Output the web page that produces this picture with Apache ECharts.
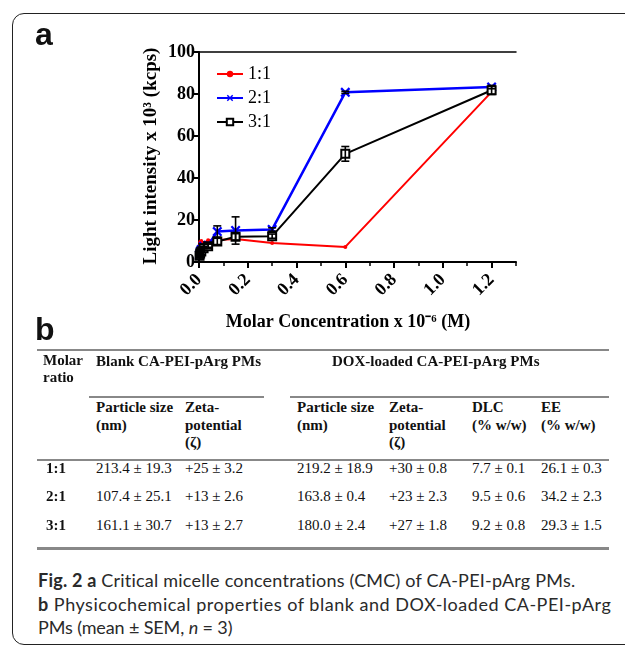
<!DOCTYPE html>
<html><head><meta charset="utf-8">
<script src="https://cdn.jsdelivr.net/npm/echarts@6/dist/echarts.min.js"></script>
<style>
html,body{margin:0;padding:0;background:#fff;width:625px;height:647px;overflow:hidden;position:relative}
#frame{position:absolute;left:12px;top:13px;width:660px;height:632px;border:1.5px solid #222;border-radius:12px;box-sizing:border-box}
#chart{position:absolute;left:0;top:0;width:625px;height:345px}
.t{position:absolute;white-space:nowrap;font-family:"Liberation Serif",serif;font-size:15px;line-height:16px;color:#111}
.b{font-weight:bold}
.hl{position:absolute;background:#888;height:1.5px}
.panel{position:absolute;font-family:"Liberation Sans",Arial,sans-serif;font-weight:bold;font-size:32px;line-height:32px;color:#111}
.cap{position:absolute;left:38px;white-space:nowrap;font-family:Lato,"Open Sans",sans-serif;font-size:18px;line-height:20px;color:#2a2a2a}
</style></head>
<body>
<div id="frame"></div>
<div id="chart"></div>
<div class="panel" style="left:35px;top:18px">a</div>
<div class="panel" style="left:35px;top:313px">b</div>
<div id="table"></div>
<div id="caption"></div>
<script>
// ---- Panel a data ----
const concentrations = [0.0023, 0.0047, 0.0094, 0.0188, 0.0375, 0.075, 0.15, 0.3, 0.6, 1.2];
const ratio11 = [7.5, 9.5, 10, 9, 10.3, 10.5, 11, 9, 7.2, 81];
const ratio21 = [3.5, 5, 6, 7.5, 8, 14.5, 15, 15.5, 80.8, 83.3];
const ratio31 = [3, 4, 5, 6.5, 7.5, 9.8, 12, 12.3, 51.5, 81.8];
const err21 = [1, 1, 1, 1, 1, 2.7, 6.5, 0.8, 0.5, 0.8];
const err31 = [1.5, 1.5, 1.5, 1, 1, 1.5, 1.5, 1, 3.5, 2];
const seriesNames = ['1:1', '2:1', '3:1'];
const xMajorTicks = [0, 0.2, 0.4, 0.6, 0.8, 1.0, 1.2];
const xMinorTicks = [0.1, 0.3, 0.5, 0.7, 0.9, 1.1, 1.3];

// ---- Panel b data ----
const molarRatios = ['1:1', '2:1', '3:1'];
const blankSize = ['213.4 ± 19.3', '107.4 ± 25.1', '161.1 ± 30.7'];
const blankZeta = ['+25 ± 3.2', '+13 ± 2.6', '+13 ± 2.7'];
const doxSize = ['219.2 ± 18.9', '163.8 ± 0.4', '180.0 ± 2.4'];
const doxZeta = ['+30 ± 0.8', '+23 ± 2.3', '+27 ± 1.8'];
const doxDLC = ['7.7 ± 0.1', '9.5 ± 0.6', '9.2 ± 0.8'];
const doxEE = ['26.1 ± 0.3', '34.2 ± 2.3', '29.3 ± 1.5'];

const serif = '"Liberation Serif", "Times New Roman", serif';
const zip = (xs, ys) => xs.map((x, i) => [x, ys[i]]);
const errData = (ys, es) => concentrations.map((x, i) => [x, ys[i] - es[i], ys[i] + es[i]]);
const xSym = 'path://M0,1.6L1.6,0L5,3.4L8.4,0L10,1.6L6.6,5L10,8.4L8.4,10L5,6.6L1.6,10L0,8.4L3.4,5Z';

function errorBar(color) {
  return function (params, api) {
    const x = api.value(0), lo = api.value(1), hi = api.value(2);
    const p1 = api.coord([x, lo]), p2 = api.coord([x, hi]);
    const w = 4;
    const st = {stroke: color, lineWidth: 1.6};
    return {type: 'group', children: [
      {type: 'line', shape: {x1: p1[0], y1: p1[1], x2: p2[0], y2: p2[1]}, style: st},
      {type: 'line', shape: {x1: p1[0] - w, y1: p1[1], x2: p1[0] + w, y2: p1[1]}, style: st},
      {type: 'line', shape: {x1: p2[0] - w, y1: p2[1], x2: p2[0] + w, y2: p2[1]}, style: st}
    ]};
  };
}
const blank = {axisLabel: {show: false}, axisTick: {show: false}, splitLine: {show: false}};

const chart = echarts.init(document.getElementById('chart'), null, {renderer: 'canvas'});
chart.setOption({
  animation: false,
  grid: {left: 199, top: 52, width: 317, height: 210},
  legend: {
    data: seriesNames, orient: 'vertical', left: 211, top: 60, itemWidth: 26, itemHeight: 8, itemGap: 6,
    textStyle: {fontFamily: serif, fontSize: 18, color: '#000'}
  },
  xAxis: [{
    type: 'value', min: 0, max: 1.3, position: 'bottom',
    axisLine: {lineStyle: {color: '#000', width: 2}},
    axisTick: {customValues: xMajorTicks, length: 6, lineStyle: {color: '#000', width: 2}},
    axisLabel: {customValues: xMajorTicks, rotate: 45, margin: 15, formatter: v => v.toFixed(1), fontFamily: serif, fontWeight: 'bold', fontSize: 18, color: '#000'},
    splitLine: {show: false}
  }, {
    type: 'value', min: 0, max: 1.3, position: 'bottom',
    axisLine: {show: false},
    axisTick: {customValues: xMinorTicks, length: 4, lineStyle: {color: '#000', width: 1.5}},
    axisLabel: {show: false}, splitLine: {show: false}
  }, Object.assign({
    type: 'value', min: 0, max: 1.3, position: 'top',
    axisLine: {show: true, lineStyle: {color: '#000', width: 1.5}}
  }, blank)],
  yAxis: [{
    type: 'value', min: 0, max: 100, interval: 20,
    axisLine: {show: true, lineStyle: {color: '#000', width: 2}},
    axisTick: {show: true, length: 6, lineStyle: {color: '#000', width: 2}},
    axisLabel: {margin: 4, fontFamily: serif, fontWeight: 'bold', fontSize: 18, color: '#000'},
    splitLine: {show: false}
  }, Object.assign({
    type: 'value', min: 0, max: 100, position: 'right',
    axisLine: {show: true, lineStyle: {color: '#000', width: 1.5}}
  }, blank)],
  graphic: [
    {type: 'text', x: 151, y: 156, rotation: Math.PI / 2, style: {text: 'Light intensity x 10³ (kcps)', font: 'bold 19px ' + serif, fill: '#000', align: 'center', verticalAlign: 'middle'}},
    {type: 'text', x: 348, y: 322, style: {text: 'Molar Concentration x 10⁻⁶ (M)', font: 'bold 18px ' + serif, fill: '#000', align: 'center', verticalAlign: 'middle'}}
  ],
  series: [
    {name: '1:1', type: 'line', data: zip(concentrations, ratio11), color: '#ff0000', lineStyle: {width: 2, color: '#ff0000'}, symbol: 'circle', symbolSize: 4, z: 2},
    {name: '2:1', type: 'line', data: zip(concentrations, ratio21), color: '#0000ff', lineStyle: {width: 2.5, color: '#0000ff'}, symbol: xSym, symbolSize: 10, z: 3},
    {name: '3:1', type: 'line', data: zip(concentrations, ratio31), color: '#000', lineStyle: {width: 2, color: '#000'}, symbol: 'emptyRect', symbolSize: 8, itemStyle: {borderWidth: 1.5, color: '#000'}, z: 4},
    {type: 'custom', renderItem: errorBar('#000'), data: errData(ratio21, err21), encode: {x: 0, y: [1, 2]}, z: 5, silent: true},
    {type: 'custom', renderItem: errorBar('#000'), data: errData(ratio31, err31), encode: {x: 0, y: [1, 2]}, z: 5, silent: true}
  ]
});

// ---- table ----
const T = document.getElementById('table');
function txt(x, yc, s, cls) {
  const d = document.createElement('div');
  d.className = 't ' + (cls || '');
  d.style.left = x + 'px'; d.style.top = (yc - 8) + 'px';
  d.innerHTML = s; T.appendChild(d); return d;
}
function hl(x1, x2, y, h) {
  const d = document.createElement('div');
  d.className = 'hl'; d.style.left = x1 + 'px'; d.style.width = (x2 - x1) + 'px';
  d.style.top = y + 'px'; if (h) d.style.height = h + 'px'; T.appendChild(d);
}
hl(37, 609, 349);
hl(89, 264, 396); hl(290, 609, 396);
hl(37, 609, 459);
hl(37, 609, 547, 2.5);
txt(43, 360, 'Molar', 'b'); txt(43, 377, 'ratio', 'b');
txt(96, 361, 'Blank CA-PEI-pArg PMs', 'b');
const dh = txt(0, 361, 'DOX-loaded CA-PEI-pArg PMs', 'b');
dh.style.left = (436 - dh.offsetWidth / 2) + 'px';
const subCols = [[96, ['Particle size', '(nm)']], [185, ['Zeta-', 'potential', '(ζ)']],
  [297, ['Particle size', '(nm)']], [389, ['Zeta-', 'potential', '(ζ)']],
  [472, ['DLC', '(% w/w)']], [541, ['EE', '(% w/w)']]];
subCols.forEach(([x, lines]) => lines.forEach((s, i) => txt(x, 407 + i * 17.5, s, 'b')));
const rowY = [468, 496, 525];
const cols = [[96, blankSize], [185, blankZeta], [297, doxSize], [389, doxZeta], [472, doxDLC], [541, doxEE]];
molarRatios.forEach((r, i) => {
  const d = txt(0, rowY[i], r, 'b'); d.style.left = (66 - d.offsetWidth) + 'px';
  cols.forEach(([x, arr]) => txt(x, rowY[i], arr[i]));
});

// ---- caption ----
const C = document.getElementById('caption');
const capLines = [
  '<b>Fig. 2 a</b> Critical micelle concentrations (CMC) of CA-PEI-pArg PMs.',
  '<b>b</b> Physicochemical properties of blank and DOX-loaded CA-PEI-pArg',
  'PMs (mean ± SEM, <i>n</i> = 3)'
];
const capY = [580, 604, 627];
const capW = [538, 574, 194];
capLines.forEach((s, i) => {
  const d = document.createElement('div'); d.className = 'cap';
  d.style.top = (capY[i] - 10) + 'px'; d.innerHTML = s; C.appendChild(d);
  const n = d.textContent.length;
  const ls = (capW[i] - d.offsetWidth) / n;
  d.style.letterSpacing = ls.toFixed(3) + 'px';
});
</script>
</body></html>
